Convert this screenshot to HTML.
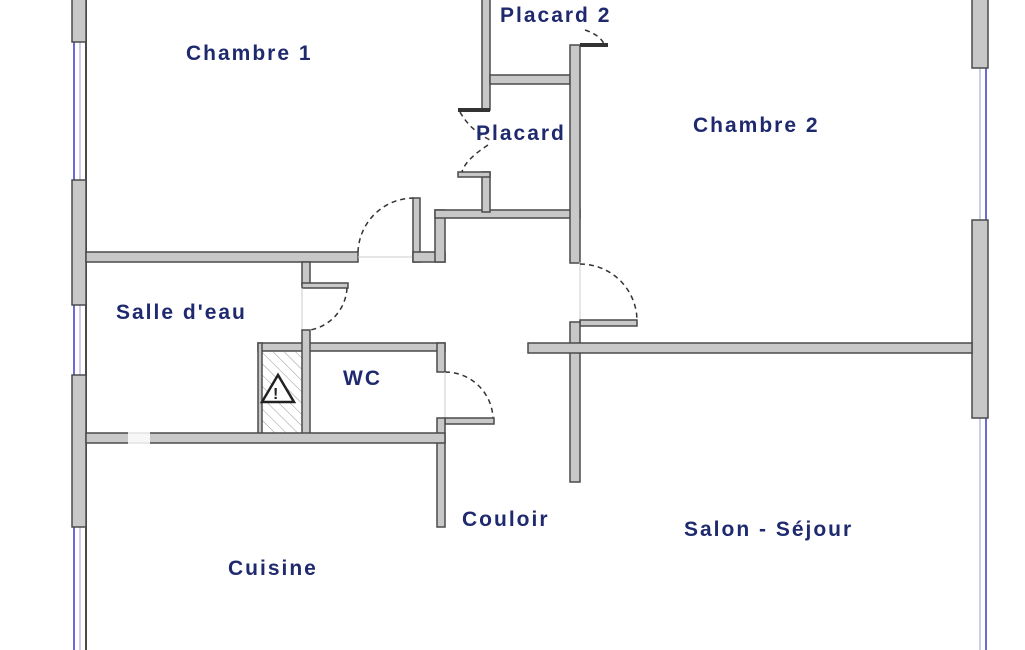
<!DOCTYPE html>
<html><head><meta charset="utf-8"><style>
html,body{margin:0;padding:0;background:#fff;width:1025px;height:650px;overflow:hidden}
svg{display:block}
text{font-family:"Liberation Sans",sans-serif;font-weight:bold;font-size:21px;letter-spacing:2px;fill:#1f2a6e}
.w{fill:#c8c8c8;stroke:#4a4a4a;stroke-width:1.5}
.d{fill:none;stroke:#333;stroke-width:1.5;stroke-dasharray:5,4}
.g{stroke:#ccc;stroke-width:1}
</style></head><body>
<svg width="1025" height="650" viewBox="0 0 1025 650">
<defs><pattern id="h" width="8" height="8" patternUnits="userSpaceOnUse" patternTransform="rotate(-45)"><line x1="0" y1="0" x2="0" y2="8" stroke="#999" stroke-width="1"/></pattern></defs>
<line x1="74" y1="0" x2="74" y2="650" stroke="#3a3acc" stroke-width="1.5"/>
<line x1="80" y1="0" x2="80" y2="650" stroke="#9a9ae0" stroke-width="1"/>
<line x1="86" y1="0" x2="86" y2="650" stroke="#4a4a4a" stroke-width="2"/>
<rect class="w" x="72" y="-2" width="14" height="44"/>
<rect class="w" x="72" y="180" width="14" height="125"/>
<rect class="w" x="72" y="375" width="14" height="152"/>
<line x1="986" y1="0" x2="986" y2="650" stroke="#3a3acc" stroke-width="1.5"/>
<line x1="980" y1="0" x2="980" y2="650" stroke="#9a9ae0" stroke-width="1"/>
<rect class="w" x="972" y="-2" width="16" height="70"/>
<rect class="w" x="972" y="220" width="16" height="198"/>
<rect class="w" x="86" y="252" width="272" height="10"/>
<path class="d" d="M358 252 A56 56 0 0 1 414 198"/>
<line class="g" x1="358" y1="257" x2="413" y2="257"/>
<rect class="w" x="413" y="198" width="7" height="64"/>
<rect class="w" x="413" y="252" width="32" height="10"/>
<rect class="w" x="435" y="210" width="10" height="52"/>
<rect class="w" x="435" y="210" width="145" height="8"/>
<rect class="w" x="482" y="-2" width="8" height="112"/>
<rect class="w" x="482" y="172" width="8" height="40"/>
<rect x="458" y="108" width="32" height="4" fill="#333"/>
<rect class="w" x="458" y="172" width="32" height="5"/>
<path class="d" d="M460 112 Q470 130 490 140 M488 145 Q465 160 462 172"/>
<rect class="w" x="490" y="75" width="80" height="9"/>
<rect class="w" x="570" y="45" width="10" height="218"/>
<rect x="580" y="43" width="28" height="4" fill="#333"/>
<path class="d" d="M585 30 Q600 35 604 44"/>
<line class="g" x1="580" y1="262" x2="580" y2="322"/>
<path class="d" d="M580 264 A57 57 0 0 1 637 321"/>
<rect class="w" x="580" y="320" width="57" height="6"/>
<rect class="w" x="570" y="322" width="10" height="160"/>
<rect class="w" x="528" y="343" width="444" height="10"/>
<rect class="w" x="302" y="262" width="8" height="23"/>
<rect class="w" x="302" y="283" width="46" height="5"/>
<path class="d" d="M347 288 A45 45 0 0 1 310 330"/>
<line class="g" x1="302" y1="288" x2="302" y2="330"/>
<rect class="w" x="258" y="343" width="187" height="8"/>
<rect class="w" x="437" y="343" width="8" height="29"/>
<path class="d" d="M445 372 A48 48 0 0 1 493 418"/>
<line class="g" x1="445" y1="372" x2="445" y2="418"/>
<rect class="w" x="445" y="418" width="49" height="6"/>
<rect class="w" x="437" y="418" width="8" height="109"/>
<rect x="262" y="351" width="40" height="84" fill="url(#h)" stroke="#4a4a4a" stroke-width="1"/>
<rect class="w" x="258" y="343" width="4" height="92"/>
<rect class="w" x="302" y="330" width="8" height="105"/>
<rect class="w" x="86" y="433" width="359" height="10"/>
<rect x="128" y="430" width="22" height="16" fill="#fff" opacity="0.85"/>
<polygon points="278,375 262,402 294,402" fill="#fff" stroke="#222" stroke-width="2.5"/>
<text x="273" y="399" style="font-size:16px;fill:#222;letter-spacing:0">!</text>
<text x="186" y="60">Chambre 1</text>
<text x="500" y="22">Placard 2</text>
<text x="476" y="140">Placard</text>
<text x="693" y="132">Chambre 2</text>
<text x="116" y="319">Salle d'eau</text>
<text x="343" y="385">WC</text>
<text x="462" y="526">Couloir</text>
<text x="684" y="536">Salon - Séjour</text>
<text x="228" y="575">Cuisine</text>
</svg>
</body></html>
